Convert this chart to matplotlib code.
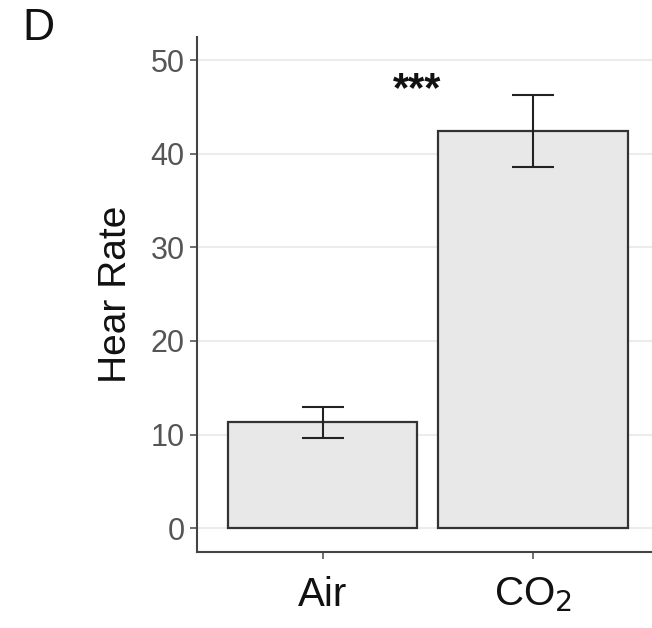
import matplotlib
matplotlib.use("Agg")
import matplotlib.pyplot as plt

plt.rcParams['font.family'] = ['Liberation Sans', 'DejaVu Sans']

categories = ["Air", "CO$_2$"]
means = [11.3, 42.4]
errors = [1.65, 3.85]
y_ticks = [0, 10, 20, 30, 40, 50]
significance = "***"

fig = plt.figure(figsize=(6.52, 6.28), dpi=100)
ax = fig.add_axes([197 / 652, 76 / 628, 462 / 652, 515 / 628])

x = list(range(len(categories)))
ax.bar(x, means, width=0.9, color="#e8e8e8", edgecolor="#333333",
       linewidth=1.6, zorder=2)
ax.errorbar(x, means, yerr=errors, fmt="none", ecolor="#222222",
            elinewidth=1.5, capsize=14.8, capthick=1.5, zorder=3)

ax.text(0.45, 46.8, significance, ha="center", va="center",
        fontsize=30, fontweight="bold", color="#111111", zorder=4)

ax.set_xlim(-0.6, 1.6)
ax.set_ylim(-2.56, 52.5)
ax.set_xticks(x)
ax.set_xticklabels(categories, fontsize=29, color="#111111")
ax.set_yticks(y_ticks)
ax.set_yticklabels([str(v) for v in y_ticks], fontsize=22, color="#555555")
ax.set_ylabel("Hear Rate", fontsize=28, color="#111111", labelpad=12)

ax.yaxis.grid(True, color="#ececec", linewidth=1.5, zorder=0)
ax.set_axisbelow(True)

for side in ("top", "right"):
    ax.spines[side].set_visible(False)
for side in ("left", "bottom"):
    ax.spines[side].set_color("#444444")
    ax.spines[side].set_linewidth(1.5)

ax.tick_params(axis="both", direction="out", length=5, width=1.2,
               color="#555555")
ax.tick_params(axis="x", pad=12)
ax.tick_params(axis="y", pad=4)

fig.text(22 / 652, 1 - 29 / 628, "D", fontsize=32, color="#111111",
         ha="left", va="center")

fig.savefig("out.png", dpi=100)
